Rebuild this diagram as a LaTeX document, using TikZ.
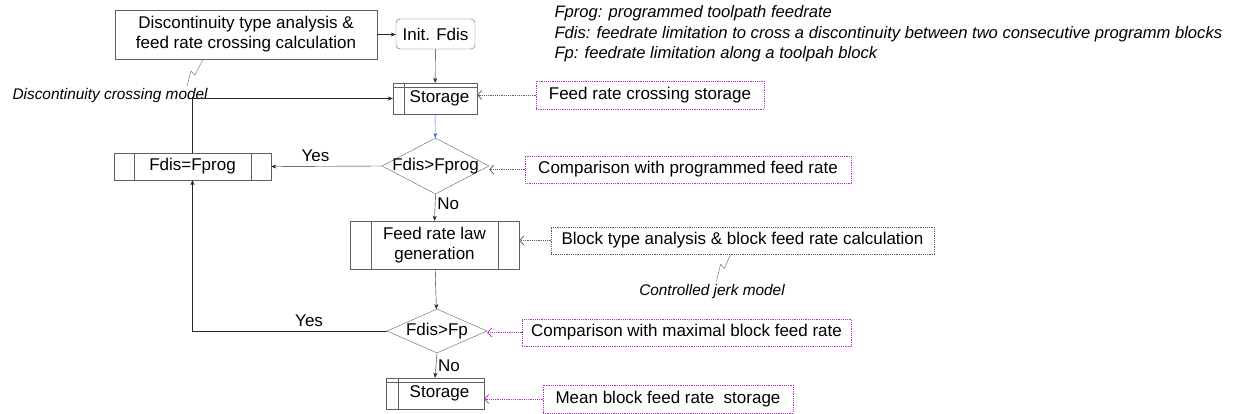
\documentclass[tikz,border=0pt]{standalone}
\usepackage{fontspec}
\setmainfont{Liberation Sans}
\usetikzlibrary{shapes.geometric,arrows.meta}
\definecolor{linegray}{RGB}{95,95,95}
\definecolor{notepurple}{RGB}{175,50,195}
\definecolor{flowblue}{RGB}{50,105,205}
\tikzset{>={Stealth[length=5pt,width=4pt]},
  every node/.style={font=\fontsize{17}{20}\selectfont},
  procbox/.style={draw=linegray, rectangle, align=center, inner sep=0pt},
  predef/.style={procbox, path picture={
      \draw[linegray] ([xshift=#1]path picture bounding box.north west) -- ([xshift=#1]path picture bounding box.south west);
      \draw[linegray] ([xshift=-#1]path picture bounding box.north east) -- ([xshift=-#1]path picture bounding box.south east);}},
  storebox/.style={procbox, path picture={
      \draw[linegray] ([yshift=-4pt]path picture bounding box.north west) -- ([yshift=-4pt]path picture bounding box.north east);
      \draw[linegray] ([xshift=#1]path picture bounding box.north west) -- ([xshift=#1]path picture bounding box.south west);}},
  decision/.style={diamond, draw=linegray, inner sep=0pt},
  dots/.style={line width=0.8pt, dash pattern=on 1.2pt off 1pt},
  notebox/.style={draw=notepurple, dots, inner sep=0pt},
  noteline/.style={dots, -{Straight Barb[length=4pt,width=9pt]}},
  legend/.style={font=\fontsize{16.6}{20.5}\selectfont\itshape, align=left},
  model/.style={font=\fontsize{15.4}{18}\selectfont\itshape},
  flow/.style={draw=black!85, ->}
}
\begin{document}
\begin{tikzpicture}[x=1pt, y=-1pt]
  \useasboundingbox (0,0) rectangle (1234,414);
  % flow chart blocks
  \node[procbox, minimum width=262pt, minimum height=49pt] (disc) at (246,34.5)
    {Discontinuity type analysis \&\\feed rate crossing calculation};
  \node[procbox, rounded corners=4pt, minimum width=79pt, minimum height=30pt] (init) at (435.5,34) {Init. Fdis};
  \node[storebox=11pt, minimum width=84pt, minimum height=31pt] (store1) at (435,98.5) {\hspace{9pt}Storage};
  \node[decision, minimum width=107pt, minimum height=56pt, label=center:Fdis>Fprog] (cmpprog) at (435.5,166) {};
  \node[predef=20pt, minimum width=157pt, minimum height=27pt] (setprog) at (192.5,166.5) {Fdis=Fprog};
  \node[predef=21pt, minimum width=169pt, minimum height=48pt] (law) at (434.5,245) {Feed rate law\\generation};
  \node[decision, minimum width=100pt, minimum height=44pt, label=center:Fdis>Fp] (cmpfp) at (437,331) {};
  \node[storebox=12pt, minimum width=98pt, minimum height=31pt] (store2) at (435,393.5) {\hspace{9pt}Storage};
  % notes
  \node[notebox, minimum width=228pt, minimum height=28pt] (ncross) at (650,95) {Feed rate crossing storage};
  \node[notebox, minimum width=326pt, minimum height=27pt] (nprog) at (688,169.5) {Comparison with programmed feed rate};
  \node[notebox, draw=linegray, minimum width=383pt, minimum height=27pt] (nblock) at (742.5,240.5)
    {Block type analysis \& block feed rate calculation};
  \node[notebox, minimum width=329pt, minimum height=27pt] (nmax) at (686.5,332.5) {Comparison with maximal block feed rate};
  \node[notebox, minimum width=250pt, minimum height=28pt] (nmean) at (668,399) {Mean block feed rate~ storage};
  % models and legend
  \node[model, anchor=west] (mdisc) at (9,96) {Discontinuity crossing model};
  \node[model] (mjerk) at (712,292) {Controlled jerk model};
  \node[legend, anchor=north west] (legend) at (551,2)
    {Fprog: programmed toolpath feedrate\\
     Fdis: feedrate limitation to cross a discontinuity between two consecutive programm blocks\\
     Fp: feedrate limitation along a toolpah block};
  \draw[linegray] ([xshift=-43pt]disc.south) -- ++(-8,16) -- ++(-4,-4) -- ++(-4,15);
  \draw[linegray] ([xshift=-12pt]nblock.south) -- ++(-6,14) -- ++(-4,-4) -- ++(-4,17);
  % connectors
  \begin{scope}[flow]
    \draw (disc.east) -- (disc.east -| init.west);
    \draw (init) -- (store1);
    \draw (setprog.north) |- (store1.west);
    \draw[flowblue] (store1) -- (cmpprog);
    \draw (cmpprog.west) -- node[above, pos=0.6, yshift=1pt]{Yes} (setprog.east);
    \draw (cmpprog.south) -- node[right, pos=0.35, inner sep=2pt]{No} (law.north);
    \draw (law) -- (cmpfp);
    \draw (cmpfp.west) -| node[above, pos=0.2, yshift=1pt]{Yes} (setprog.south);
    \draw (cmpfp.south) -- node[right, pos=0.5, inner sep=2pt]{No} (store2.north);
  \end{scope}
  \draw[noteline, linegray] (ncross.west) -- (ncross.west -| store1.east);
  \draw[noteline, linegray] (nprog.west) -- (nprog.west -| cmpprog.east);
  \draw[noteline, linegray] (nblock.west) -- (nblock.west -| law.east);
  \draw[noteline, notepurple] (nmax.west) -- (nmax.west -| cmpfp.east);
  \draw[noteline, notepurple] (nmean.west) -- (nmean.west -| store2.east);
\end{tikzpicture}
\end{document}
